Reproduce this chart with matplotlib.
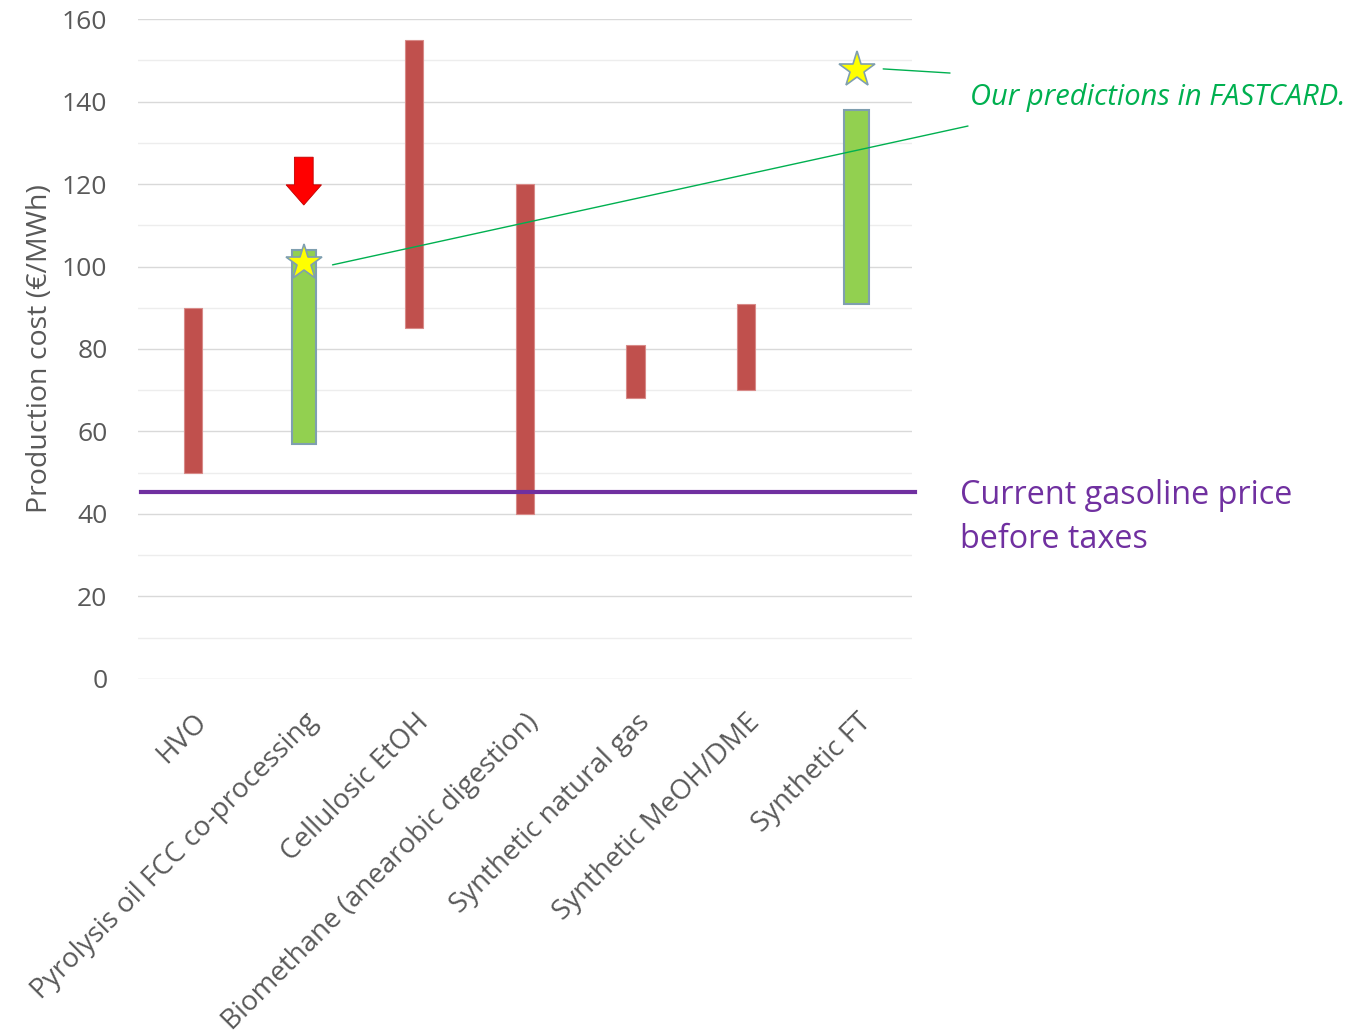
import matplotlib
matplotlib.use("Agg")
import matplotlib.pyplot as plt
import matplotlib.transforms as mtransforms
from matplotlib.patches import FancyArrow

# data
categories = ['HVO', 'Pyrolysis oil FCC co-processing', 'Cellulosic EtOH',
              'Biomethane (anearobic digestion)', 'Synthetic natural gas',
              'Synthetic MeOH/DME', 'Synthetic FT']
cost_low = [50, 57, 85, 40, 68, 70, 91]
cost_high = [90, 104, 155, 120, 81, 91, 138]
is_fastcard = [False, True, False, False, False, False, True]
star_values = [100.8, 147.6]
star_index = [1, 6]
gasoline_price = 45.3
arrow_top, arrow_tip = 126.5, 114.9

RED = '#C0504D'
GREEN = '#92D050'
PURPLE = '#7030A0'
TEXT_GREEN = '#00B050'
GREY = '#595959'

plt.rcParams['font.family'] = ['Open Sans', 'DejaVu Sans']

fig = plt.figure(figsize=(13.51, 10.33), dpi=100)
ax = fig.add_axes([0.1021, 0.3427, 0.5729, 0.6389])

x = list(range(len(categories)))
for i, lo, hi, fc in zip(x, cost_low, cost_high, is_fastcard):
    if fc:
        ax.bar(i, hi - lo, bottom=lo, width=0.22, color=GREEN,
               edgecolor='#7F9FB0', linewidth=1.5, zorder=3)
    else:
        ax.bar(i, hi - lo, bottom=lo, width=0.165, color=RED,
               edgecolor='#D88A88', linewidth=0.8, zorder=3)

# current gasoline price
ax.plot([-0.47, 6.53], [gasoline_price, gasoline_price], color=PURPLE,
        linewidth=3, clip_on=False, zorder=4)

# stars for FASTCARD predictions
ax.plot(star_index, star_values, linestyle='none', marker='*', markersize=27,
        markerfacecolor='#FFFF00', markeredgecolor='#7F9FB0',
        markeredgewidth=1.2, zorder=6)

# red arrow over pyrolysis bar
ax.add_patch(FancyArrow(1, arrow_top, 0, arrow_tip - arrow_top, width=0.17,
                        head_width=0.32, head_length=4.9,
                        length_includes_head=True, color='#FF0000',
                        ec='#C00000', linewidth=0.6, zorder=5))

# callout lines to the green text
ax.annotate('', xy=(1.26, 100.4), xycoords='data',
            xytext=(0.7165, 0.878), textcoords='figure fraction',
            arrowprops=dict(arrowstyle='-', color=TEXT_GREEN, lw=1,
                            shrinkA=0, shrinkB=0), annotation_clip=False)
ax.annotate('', xy=(6.24, 147.9), xycoords='data',
            xytext=(0.7032, 0.9293), textcoords='figure fraction',
            arrowprops=dict(arrowstyle='-', color=TEXT_GREEN, lw=1,
                            shrinkA=0, shrinkB=0), annotation_clip=False)

fig.text(0.718, 1 - 98 / 1033, 'Our predictions in FASTCARD.', color=TEXT_GREEN,
         fontsize=21, style='italic', va='center', ha='left')
fig.text(0.7105, 1 - 496 / 1033, 'Current gasoline price', color=PURPLE,
         fontsize=23.3, va='center', ha='left')
fig.text(0.7105, 1 - 540 / 1033, 'before taxes', color=PURPLE,
         fontsize=23.3, va='center', ha='left')

ax.set_xlim(-0.5, 6.5)
ax.set_ylim(0, 160)
ax.set_yticks(range(0, 161, 20))
ax.set_yticks(range(10, 160, 20), minor=True)
ax.grid(axis='y', which='major', color='#D9D9D9', linewidth=1, zorder=0)
ax.grid(axis='y', which='minor', color='#EDEDED', linewidth=1, zorder=0)
ax.set_axisbelow(True)
for s in ax.spines.values():
    s.set_visible(False)

ax.set_xticks(x)
ax.set_xticklabels(categories, rotation=45, ha='right',
                   rotation_mode='anchor', fontsize=20, color=GREY)
shift = mtransforms.ScaledTranslation(-5 / 100, 0, fig.dpi_scale_trans)
for lbl in ax.get_xticklabels():
    lbl.set_transform(lbl.get_transform() + shift)
ax.tick_params(axis='x', length=0, pad=21)
ax.tick_params(axis='y', which='both', length=0, pad=22, labelsize=19,
               labelcolor=GREY)
ax.set_ylabel('Production cost (€/MWh)', fontsize=20.5, color=GREY, labelpad=6)

fig.savefig('out.png', dpi=100)
